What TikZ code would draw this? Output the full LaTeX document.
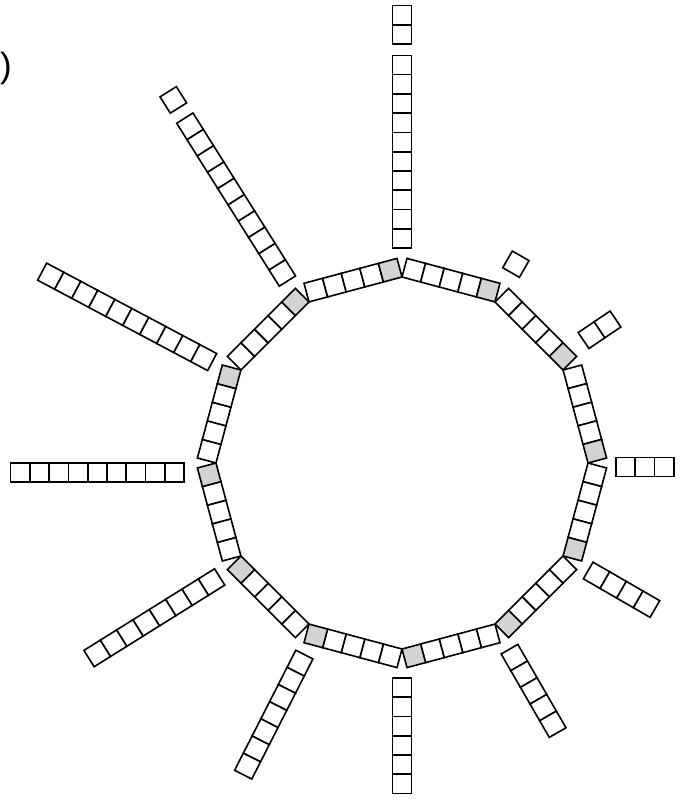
\documentclass[tikz,border=0pt]{standalone}
\usepackage{fontspec}
\setmainfont{Liberation Sans}
\definecolor{ringgray}{HTML}{D3D3D3}
% angle, start distance, number of cells, sideways shift
\newcommand\spokebar[4]{%
  \begin{scope}[rotate=#1-90]
    \foreach \j in {1,...,#3}{
      \draw[sq] ({#4-\s/2},{#2+(\j-1)*\s}) rectangle ++(\s,\s);
    }
  \end{scope}}
\begin{document}
\begin{tikzpicture}[x=1pt,y=1pt,
  sq/.style={draw=black,line width=1.6pt,fill=white,line join=miter},
  gsq/.style={sq,fill=ringgray}]
\useasboundingbox (-402,-338) rectangle (290,463);
\def\R{186}
\pgfmathsetmacro\L{2*\R*sin(15)}
\pgfmathsetmacro\s{\L/5}
\pgfmathsetmacro\a{\R*cos(15)}
% ring of twelve sides, five cells each, last cell (clockwise) gray
\foreach \i in {0,...,11}{
  \pgfmathsetmacro\al{90-30*\i}
  \begin{scope}[rotate=\al-105]
    \foreach \k in {0,...,3}{
      \draw[sq] ({-\L/2+\k*\s},\a) rectangle ++(\s,\s);
    }
    \draw[gsq] ({-\L/2+4*\s},\a) rectangle ++(\s,\s);
  \end{scope}
}
% spokes
\spokebar{90}{215}{10}{0}
\spokebar{90}{419}{2}{0}
\spokebar{60.2}{219.5}{1}{0}
\spokebar{34}{219}{2}{0}
\spokebar{0}{214}{3}{4}
\spokebar{-30}{215}{4}{0}
\spokebar{-60}{215}{5}{0}
\spokebar{-90}{215}{6}{0}
\spokebar{-117}{215}{7}{0}
\spokebar{-148}{215}{8}{0}
\spokebar{180}{218}{9}{-9.5}
\spokebar{152}{215}{10}{0}
\spokebar{122.2}{215}{10}{0}
\spokebar{122.2}{419.5}{1}{0}
\node[font=\fontsize{35}{40}\selectfont, inner sep=0pt, anchor=west] (lbl) at (-402,395) {)};
\end{tikzpicture}
\end{document}
